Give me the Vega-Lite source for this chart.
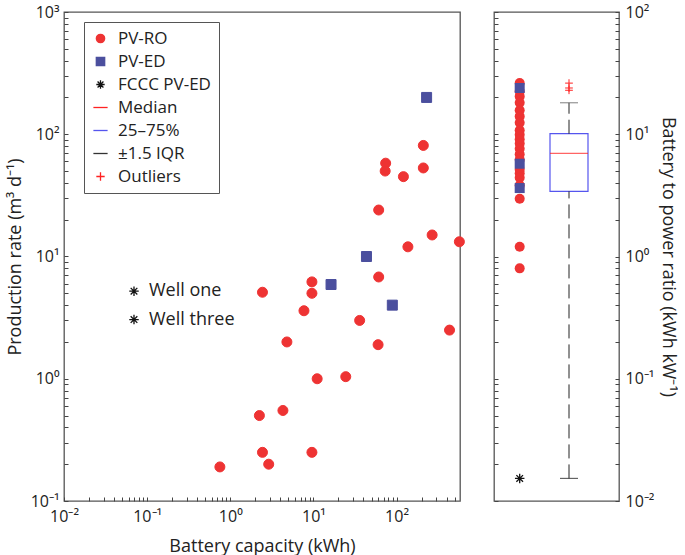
{
  "$schema": "https://vega.github.io/schema/vega-lite/v6.json",
  "padding": {"left": 5, "top": 3, "right": 0, "bottom": 3},
  "spacing": 24,
  "config": {
    "font": "Open Sans",
    "view": {"stroke": "#555", "strokeWidth": 1.3},
    "axis": {
      "domain": false, "grid": false, "tickColor": "#444", "tickWidth": 1,
      "labelFontSize": 16, "labelColor": "#222", "labelOverlap": false, "labelBound": false, "labelFlush": false,
      "titleFontSize": 18, "titleFontWeight": "normal", "titleColor": "#222"
    }
  },
  "resolve": {
    "scale": {"x": "independent", "y": "independent", "fill": "independent", "stroke": "independent", "shape": "independent", "color": "independent"},
    "legend": {"fill": "independent", "stroke": "independent", "shape": "independent", "color": "independent"}
  },
  "datasets": {
    "scatter": [
      {"series": "PV-ED", "cap": 230, "rate": 200},
      {"series": "PV-ED", "cap": 43.5, "rate": 10},
      {"series": "PV-ED", "cap": 16.3, "rate": 5.9},
      {"series": "PV-ED", "cap": 89, "rate": 4.0},
      {"series": "PV-RO", "cap": 210, "rate": 81},
      {"series": "PV-RO", "cap": 74, "rate": 58},
      {"series": "PV-RO", "cap": 73, "rate": 50},
      {"series": "PV-RO", "cap": 121, "rate": 45},
      {"series": "PV-RO", "cap": 210, "rate": 53},
      {"series": "PV-RO", "cap": 61, "rate": 24},
      {"series": "PV-RO", "cap": 268, "rate": 15},
      {"series": "PV-RO", "cap": 570, "rate": 13.2},
      {"series": "PV-RO", "cap": 137, "rate": 12},
      {"series": "PV-RO", "cap": 61, "rate": 6.8},
      {"series": "PV-RO", "cap": 9.6, "rate": 6.2},
      {"series": "PV-RO", "cap": 9.6, "rate": 5.0},
      {"series": "PV-RO", "cap": 2.44, "rate": 5.1},
      {"series": "PV-RO", "cap": 7.7, "rate": 3.6},
      {"series": "PV-RO", "cap": 36, "rate": 3.0},
      {"series": "PV-RO", "cap": 434, "rate": 2.5},
      {"series": "PV-RO", "cap": 4.8, "rate": 2.0},
      {"series": "PV-RO", "cap": 60, "rate": 1.9},
      {"series": "PV-RO", "cap": 11.1, "rate": 1.0},
      {"series": "PV-RO", "cap": 24.5, "rate": 1.04},
      {"series": "PV-RO", "cap": 4.3, "rate": 0.55},
      {"series": "PV-RO", "cap": 2.24, "rate": 0.5},
      {"series": "PV-RO", "cap": 2.44, "rate": 0.25},
      {"series": "PV-RO", "cap": 9.6, "rate": 0.25},
      {"series": "PV-RO", "cap": 2.9, "rate": 0.2},
      {"series": "PV-RO", "cap": 0.75, "rate": 0.19}
    ],
    "wells": [
      {"label": "Well one", "cap": 0.0695, "rate": 5.2},
      {"label": "Well three", "cap": 0.0695, "rate": 3.05}
    ],
    "ratio": [
      {"series": "PV-RO", "grp": "pts", "v": 26.2},
      {"series": "PV-RO", "grp": "pts", "v": 22.5},
      {"series": "PV-RO", "grp": "pts", "v": 20.4},
      {"series": "PV-RO", "grp": "pts", "v": 18.1},
      {"series": "PV-RO", "grp": "pts", "v": 15.7},
      {"series": "PV-RO", "grp": "pts", "v": 14.0},
      {"series": "PV-RO", "grp": "pts", "v": 12.4},
      {"series": "PV-RO", "grp": "pts", "v": 10.8},
      {"series": "PV-RO", "grp": "pts", "v": 9.9},
      {"series": "PV-RO", "grp": "pts", "v": 9.1},
      {"series": "PV-RO", "grp": "pts", "v": 8.4},
      {"series": "PV-RO", "grp": "pts", "v": 7.6},
      {"series": "PV-RO", "grp": "pts", "v": 6.85},
      {"series": "PV-RO", "grp": "pts", "v": 6.2},
      {"series": "PV-RO", "grp": "pts", "v": 5.13},
      {"series": "PV-RO", "grp": "pts", "v": 4.8},
      {"series": "PV-RO", "grp": "pts", "v": 4.41},
      {"series": "PV-RO", "grp": "pts", "v": 3.82},
      {"series": "PV-RO", "grp": "pts", "v": 2.97},
      {"series": "PV-RO", "grp": "pts", "v": 1.2},
      {"series": "PV-RO", "grp": "pts", "v": 0.8},
      {"series": "PV-ED", "grp": "pts", "v": 23.9},
      {"series": "PV-ED", "grp": "pts", "v": 5.74},
      {"series": "PV-ED", "grp": "pts", "v": 3.63}
    ],
    "fccc": [{"grp": "pts", "v": 0.0153}],
    "box": [{"grp": "box", "q1": 3.41, "median": 6.98, "q3": 10.1, "lower": 0.0153, "upper": 18.1}],
    "whisk": [
      {"grp": "box", "from": 0.0153, "to": 3.41},
      {"grp": "box", "from": 10.1, "to": 18.1}
    ],
    "capUpper": [{"grp": "box", "v": 18.1}],
    "capLower": [{"grp": "box", "v": 0.0153}],
    "outliers": [
      {"grp": "box", "v": 26.2},
      {"grp": "box", "v": 23.9},
      {"grp": "box", "v": 22.9}
    ]
  },
  "hconcat": [
    {
      "width": 396,
      "height": 489,
      "layer": [
        {
          "data": {"name": "scatter"},
          "mark": {"type": "point", "filled": true, "size": 100, "opacity": 1, "strokeWidth": 1},
          "encoding": {
            "x": {
              "field": "cap", "type": "quantitative",
              "scale": {"type": "log", "domain": [0.01, 580], "nice": false},
              "axis": {
                "title": "Battery capacity (kWh)",
                "values": [0.01,0.02,0.03,0.04,0.05,0.06,0.07,0.08,0.09,0.1,0.2,0.3,0.4,0.5,0.6,0.7,0.8,0.9,1,2,3,4,5,6,7,8,9,10,20,30,40,50,60,70,80,90,100,200,300,400,500],
                "tickSize": -4,
                "labelPadding": 11,
                "labelExpr": "abs(log(datum.value)/LN10 - round(log(datum.value)/LN10)) < 0.01 ? ['10⁻²','10⁻¹','10⁰','10¹','10²','10³'][round(log(datum.value)/LN10)+2] : ''",
                "titlePadding": 13
              }
            },
            "y": {
              "field": "rate", "type": "quantitative",
              "scale": {"type": "log", "domain": [0.1, 1000], "nice": false},
              "axis": {
                "title": "Production rate (m³ d⁻¹)",
                "values": [0.1,0.2,0.3,0.4,0.5,0.6,0.7,0.8,0.9,1,2,3,4,5,6,7,8,9,10,20,30,40,50,60,70,80,90,100,200,300,400,500,600,700,800,900,1000],
                "tickSize": -4,
                "labelPadding": 9,
                "labelExpr": "abs(log(datum.value)/LN10 - round(log(datum.value)/LN10)) < 0.01 ? ['10⁻²','10⁻¹','10⁰','10¹','10²','10³'][round(log(datum.value)/LN10)+2] : ''",
                "titlePadding": 6
              }
            },
            "shape": {
              "field": "series", "type": "nominal",
              "scale": {
                "domain": ["PV-RO", "PV-ED", "FCCC PV-ED", "Median", "25–75%", "±1.5 IQR", "Outliers"],
                "range": ["circle", "square", "M0,-1V1M-1,0H1M-0.7,-0.7L0.7,0.7M-0.7,0.7L0.7,-0.7", "M-1.7,0H1.7", "M-1.7,0H1.7", "M-1.7,0H1.7", "M0,-1V1M-1,0H1"]
              },
              "legend": {
                "title": null, "orient": "none", "legendX": 20, "legendY": 10,
                "fillColor": "white", "strokeColor": "#555", "padding": 8,
                "labelFontSize": 17, "labelColor": "#222", "labelOffset": 9,
                "symbolSize": 70, "symbolStrokeWidth": 1.3, "rowPadding": 5
              }
            },
            "fill": {
              "field": "series", "type": "nominal",
              "scale": {
                "domain": ["PV-RO", "PV-ED", "FCCC PV-ED", "Median", "25–75%", "±1.5 IQR", "Outliers"],
                "range": ["#EE3333", "#4B4F9E", "#111111", "#FF2222", "#5555EE", "#333333", "#FF2222"]
              },
              "legend": {
                "title": null, "orient": "none", "legendX": 20, "legendY": 10,
                "fillColor": "white", "strokeColor": "#555", "padding": 8,
                "labelFontSize": 17, "labelColor": "#222", "labelOffset": 9,
                "symbolSize": 70, "symbolStrokeWidth": 1.3, "rowPadding": 5
              }
            },
            "stroke": {
              "field": "series", "type": "nominal",
              "scale": {
                "domain": ["PV-RO", "PV-ED", "FCCC PV-ED", "Median", "25–75%", "±1.5 IQR", "Outliers"],
                "range": ["#EE3333", "#4B4F9E", "#111111", "#FF2222", "#5555EE", "#333333", "#FF2222"]
              },
              "legend": {
                "title": null, "orient": "none", "legendX": 20, "legendY": 10,
                "fillColor": "white", "strokeColor": "#555", "padding": 8,
                "labelFontSize": 17, "labelColor": "#222", "labelOffset": 9,
                "symbolSize": 70, "symbolStrokeWidth": 1.3, "rowPadding": 5
              }
            }
          }
        },
        {
          "data": {"name": "wells"},
          "mark": {"type": "point", "shape": "M0,-1V1M-1,0H1M-0.7,-0.7L0.7,0.7M-0.7,0.7L0.7,-0.7", "filled": false, "stroke": "#111", "strokeWidth": 1.3, "size": 90, "opacity": 1},
          "encoding": {
            "x": {"field": "cap", "type": "quantitative", "scale": {"type": "log", "domain": [0.01, 580], "nice": false}},
            "y": {"field": "rate", "type": "quantitative", "scale": {"type": "log", "domain": [0.1, 1000], "nice": false}}
          }
        },
        {
          "data": {"name": "wells"},
          "mark": {"type": "text", "align": "left", "baseline": "middle", "dx": 15, "fontSize": 18, "color": "#222"},
          "encoding": {
            "x": {"field": "cap", "type": "quantitative", "scale": {"type": "log", "domain": [0.01, 580], "nice": false}},
            "y": {"field": "rate", "type": "quantitative", "scale": {"type": "log", "domain": [0.1, 1000], "nice": false}},
            "text": {"field": "label"}
          }
        }
      ]
    },
    {
      "width": 125,
      "height": 489,
      "resolve": {"axis": {"y": "independent"}},
      "layer": [
        {
          "data": {"name": "box"},
          "mark": {"type": "bar", "width": 38, "fill": "white", "stroke": "#5555EE", "strokeWidth": 1.2},
          "encoding": {
            "x": {"field": "grp", "type": "nominal", "scale": {"type": "point", "domain": ["pts", "box"], "range": [25.7, 75], "padding": 0}, "axis": null},
            "y": {
              "field": "q1", "type": "quantitative",
              "scale": {"type": "log", "domain": [0.01, 100], "nice": false},
              "axis": {
                "orient": "left", "title": null, "labels": false,
                "values": [0.01,0.02,0.03,0.04,0.05,0.06,0.07,0.08,0.09,0.1,0.2,0.3,0.4,0.5,0.6,0.7,0.8,0.9,1,2,3,4,5,6,7,8,9,10,20,30,40,50,60,70,80,90,100],
                "tickSize": -4
              }
            },
            "y2": {"field": "q3"}
          }
        },
        {
          "data": {"name": "box"},
          "mark": {"type": "tick", "color": "#FF2222", "size": 38, "thickness": 1.2},
          "encoding": {
            "x": {"field": "grp", "type": "nominal", "scale": {"type": "point", "domain": ["pts", "box"], "range": [25.7, 75], "padding": 0}, "axis": null},
            "y": {
              "field": "median", "type": "quantitative",
              "scale": {"type": "log", "domain": [0.01, 100], "nice": false},
              "axis": {
                "orient": "right", "title": "Battery to power ratio (kWh kW⁻¹)",
                "values": [0.01,0.02,0.03,0.04,0.05,0.06,0.07,0.08,0.09,0.1,0.2,0.3,0.4,0.5,0.6,0.7,0.8,0.9,1,2,3,4,5,6,7,8,9,10,20,30,40,50,60,70,80,90,100],
                "tickSize": -4,
                "labelPadding": 10,
                "labelExpr": "abs(log(datum.value)/LN10 - round(log(datum.value)/LN10)) < 0.01 ? ['10⁻²','10⁻¹','10⁰','10¹','10²','10³'][round(log(datum.value)/LN10)+2] : ''",
                "titlePadding": 5
              }
            }
          }
        },
        {
          "data": {"name": "whisk"},
          "mark": {"type": "rule", "color": "#222", "strokeWidth": 1, "strokeDash": [14, 6]},
          "encoding": {
            "x": {"field": "grp", "type": "nominal", "scale": {"type": "point", "domain": ["pts", "box"], "range": [25.7, 75], "padding": 0}, "axis": null},
            "y": {"field": "from", "type": "quantitative", "scale": {"type": "log", "domain": [0.01, 100], "nice": false}, "axis": null},
            "y2": {"field": "to"}
          }
        },
        {
          "data": {"name": "capUpper"},
          "mark": {"type": "tick", "size": 18, "thickness": 1.2, "color": "#666666"},
          "encoding": {
            "x": {"field": "grp", "type": "nominal", "scale": {"type": "point", "domain": ["pts", "box"], "range": [25.7, 75], "padding": 0}, "axis": null},
            "y": {"field": "v", "type": "quantitative", "scale": {"type": "log", "domain": [0.01, 100], "nice": false}, "axis": null}
          }
        },
        {
          "data": {"name": "capLower"},
          "mark": {"type": "tick", "size": 18, "thickness": 1.2, "color": "#222222"},
          "encoding": {
            "x": {"field": "grp", "type": "nominal", "scale": {"type": "point", "domain": ["pts", "box"], "range": [25.7, 75], "padding": 0}, "axis": null},
            "y": {"field": "v", "type": "quantitative", "scale": {"type": "log", "domain": [0.01, 100], "nice": false}, "axis": null}
          }
        },
        {
          "data": {"name": "outliers"},
          "mark": {"type": "point", "shape": "M0,-1V1M-1,0H1", "filled": false, "stroke": "#FF2222", "strokeWidth": 1, "size": 60, "opacity": 1},
          "encoding": {
            "x": {"field": "grp", "type": "nominal", "scale": {"type": "point", "domain": ["pts", "box"], "range": [25.7, 75], "padding": 0}, "axis": null},
            "y": {"field": "v", "type": "quantitative", "scale": {"type": "log", "domain": [0.01, 100], "nice": false}, "axis": null}
          }
        },
        {
          "data": {"name": "ratio"},
          "mark": {"type": "point", "filled": true, "size": 100, "opacity": 1},
          "encoding": {
            "x": {"field": "grp", "type": "nominal", "scale": {"type": "point", "domain": ["pts", "box"], "range": [25.7, 75], "padding": 0}, "axis": null},
            "y": {"field": "v", "type": "quantitative", "scale": {"type": "log", "domain": [0.01, 100], "nice": false}, "axis": null},
            "shape": {"field": "series", "type": "nominal", "scale": {"domain": ["PV-RO", "PV-ED"], "range": ["circle", "square"]}, "legend": null},
            "color": {"field": "series", "type": "nominal", "scale": {"domain": ["PV-RO", "PV-ED"], "range": ["#EE3333", "#4B4F9E"]}, "legend": null}
          }
        },
        {
          "data": {"name": "fccc"},
          "mark": {"type": "point", "shape": "M0,-1V1M-1,0H1M-0.7,-0.7L0.7,0.7M-0.7,0.7L0.7,-0.7", "filled": false, "stroke": "#111", "strokeWidth": 1.3, "size": 90, "opacity": 1},
          "encoding": {
            "x": {"field": "grp", "type": "nominal", "scale": {"type": "point", "domain": ["pts", "box"], "range": [25.7, 75], "padding": 0}, "axis": null},
            "y": {"field": "v", "type": "quantitative", "scale": {"type": "log", "domain": [0.01, 100], "nice": false}, "axis": null}
          }
        }
      ]
    }
  ]
}
